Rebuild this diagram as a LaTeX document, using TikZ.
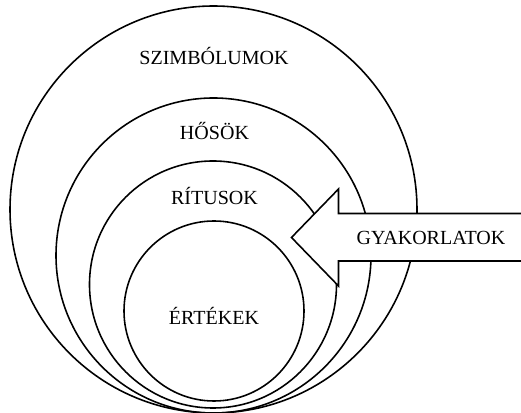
\documentclass[tikz,border=0pt]{standalone}
\usepackage{fontspec}
\setmainfont{Liberation Serif}
\usepackage{tikz}
\usetikzlibrary{positioning,calc}

\tikzset{
ring/.style={circle,draw=black,line width=0.9pt,inner sep=0pt},
lbl/.style={anchor=base,font=\fontsize{11.4}{13}\selectfont}
}

\begin{document}
\begin{tikzpicture}
\useasboundingbox (0,0) rectangle (10.42,8.26);
\clip (0,0) rectangle (10.42,8.26);
\node[ring,minimum size=8.14cm] (szimb) at (4.27,4.07) {};
\node[ring,minimum size=6.30cm] (hos) at (4.27,3.15) {};
\node[ring,minimum size=4.94cm] (ritus) at (4.26,2.57) {};
\node[ring,minimum size=3.60cm] (ertek) at (4.28,2.04) {};
% arrow
\draw[line width=0.9pt,fill=white] (10.60,3.99) -- (6.77,3.99) -- (6.77,4.48)
  -- (5.83,3.51) -- (6.77,2.54) -- (6.77,3.04) -- (10.60,3.04);
\node[lbl] (lszimb) at (4.28,6.97) {SZIMBÓLUMOK};
\node[lbl] (lhos) at (4.29,5.47) {HŐSÖK};
\node[lbl] (lritus) at (4.29,4.17) {RÍTUSOK};
\node[lbl] (lertek) at (4.28,1.77) {ÉRTÉKEK};
\node[lbl] (lgyak) at (8.62,3.36) {GYAKORLATOK};
\end{tikzpicture}
\end{document}
